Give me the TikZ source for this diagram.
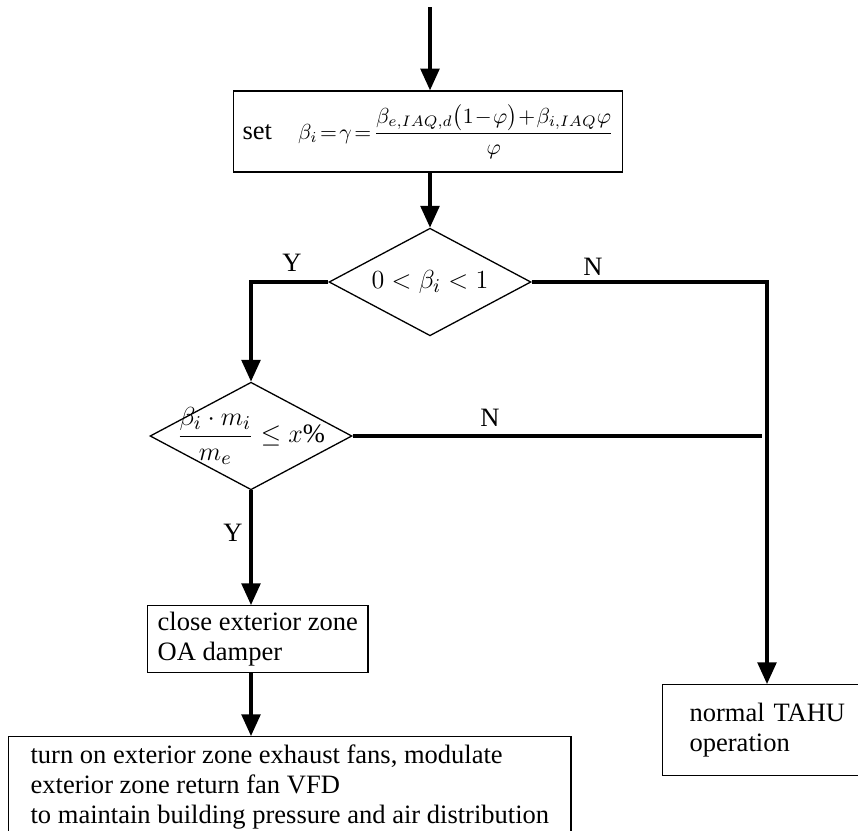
\documentclass[tikz,border=0pt]{standalone}
\usepackage{amsmath}
\usepackage{fontspec}
\setmainfont{Liberation Serif}
\usetikzlibrary{shapes.geometric,arrows.meta}
\begin{document}
\begin{tikzpicture}[x=0.46pt,y=-0.46pt,line join=miter,
		font=\fontsize{12.2}{13.8}\selectfont,
		>={Triangle[length=10pt,width=8.7pt]},
		flow/.style={->,line width=1.4pt},
		link/.style={line width=1.4pt},
		box/.style={draw,line width=0.6pt,inner ysep=0pt,align=left},
		dec/.style={draw,diamond,line width=0.6pt,inner sep=0pt,minimum width=92.9pt,minimum height=49.5pt}]
	\useasboundingbox (0,0) rectangle (858,830);
	% boxes and decisions
	\coordinate (start) at (430,7);
	\node[box,anchor=west,inner xsep=4.1pt,minimum height=37.3pt] (set) at (233,131.5)
		{set\hspace{12pt}{\fontsize{10.2}{12}\selectfont\medmuskip=1mu\thickmuskip=2mu
		$\beta_i=\gamma=\dfrac{\beta_{e,IAQ,d}\bigl(1-\varphi\bigr)+\beta_{i,IAQ}\varphi}{\varphi}$}};
	\node[dec] (dec1) at (430,282) {};
	\node (dec1txt) at (dec1) {$0<\beta_i<1$};
	\node[dec] (dec2) at (251,436) {};
	\node (dec2txt) at (dec2) {$\dfrac{\beta_i\cdot m_i}{m_e}\le x\mbox{\%}$};
	\node[box,anchor=north west,inner xsep=4.6pt,minimum height=30.8pt] (close) at (147,605)
		{close exterior zone\\OA damper};
	\node[box,anchor=north west,inner xsep=12.4pt,text width=85pt,minimum height=41.9pt] (normal) at (662,684)
		{normal TAHU\\operation};
	\node[box,anchor=north west,inner xsep=10.1pt,inner ysep=3.7pt] (action) at (8,736)
		{turn on exterior zone exhaust fans, modulate\\exterior zone return fan VFD\\to maintain building pressure and air distribution};
	% connectors
	\coordinate (nturn) at (767,282);
	\coordinate (nend) at (762,436);
	\draw[flow] (start) -- (start |- set.north);
	\draw[flow] (start |- set.south) -- (dec1.north);
	\draw[flow] (dec1.west) -| (dec2.north);
	\draw[flow] (dec1.east) -- (nturn) -- (nturn |- normal.north);
	\draw[link] (dec2.east) -- (nend);
	\draw[flow] (dec2.south) -- (dec2.south |- close.north);
	\draw[flow] (dec2.south |- close.south) -- (dec2.south |- action.north);
	% labels
	\node (y1) at (292,263) {Y};
	\node (n1) at (593,267) {N};
	\node (n2) at (490,418) {N};
	\node (y2) at (233,533) {Y};
\end{tikzpicture}
\end{document}
